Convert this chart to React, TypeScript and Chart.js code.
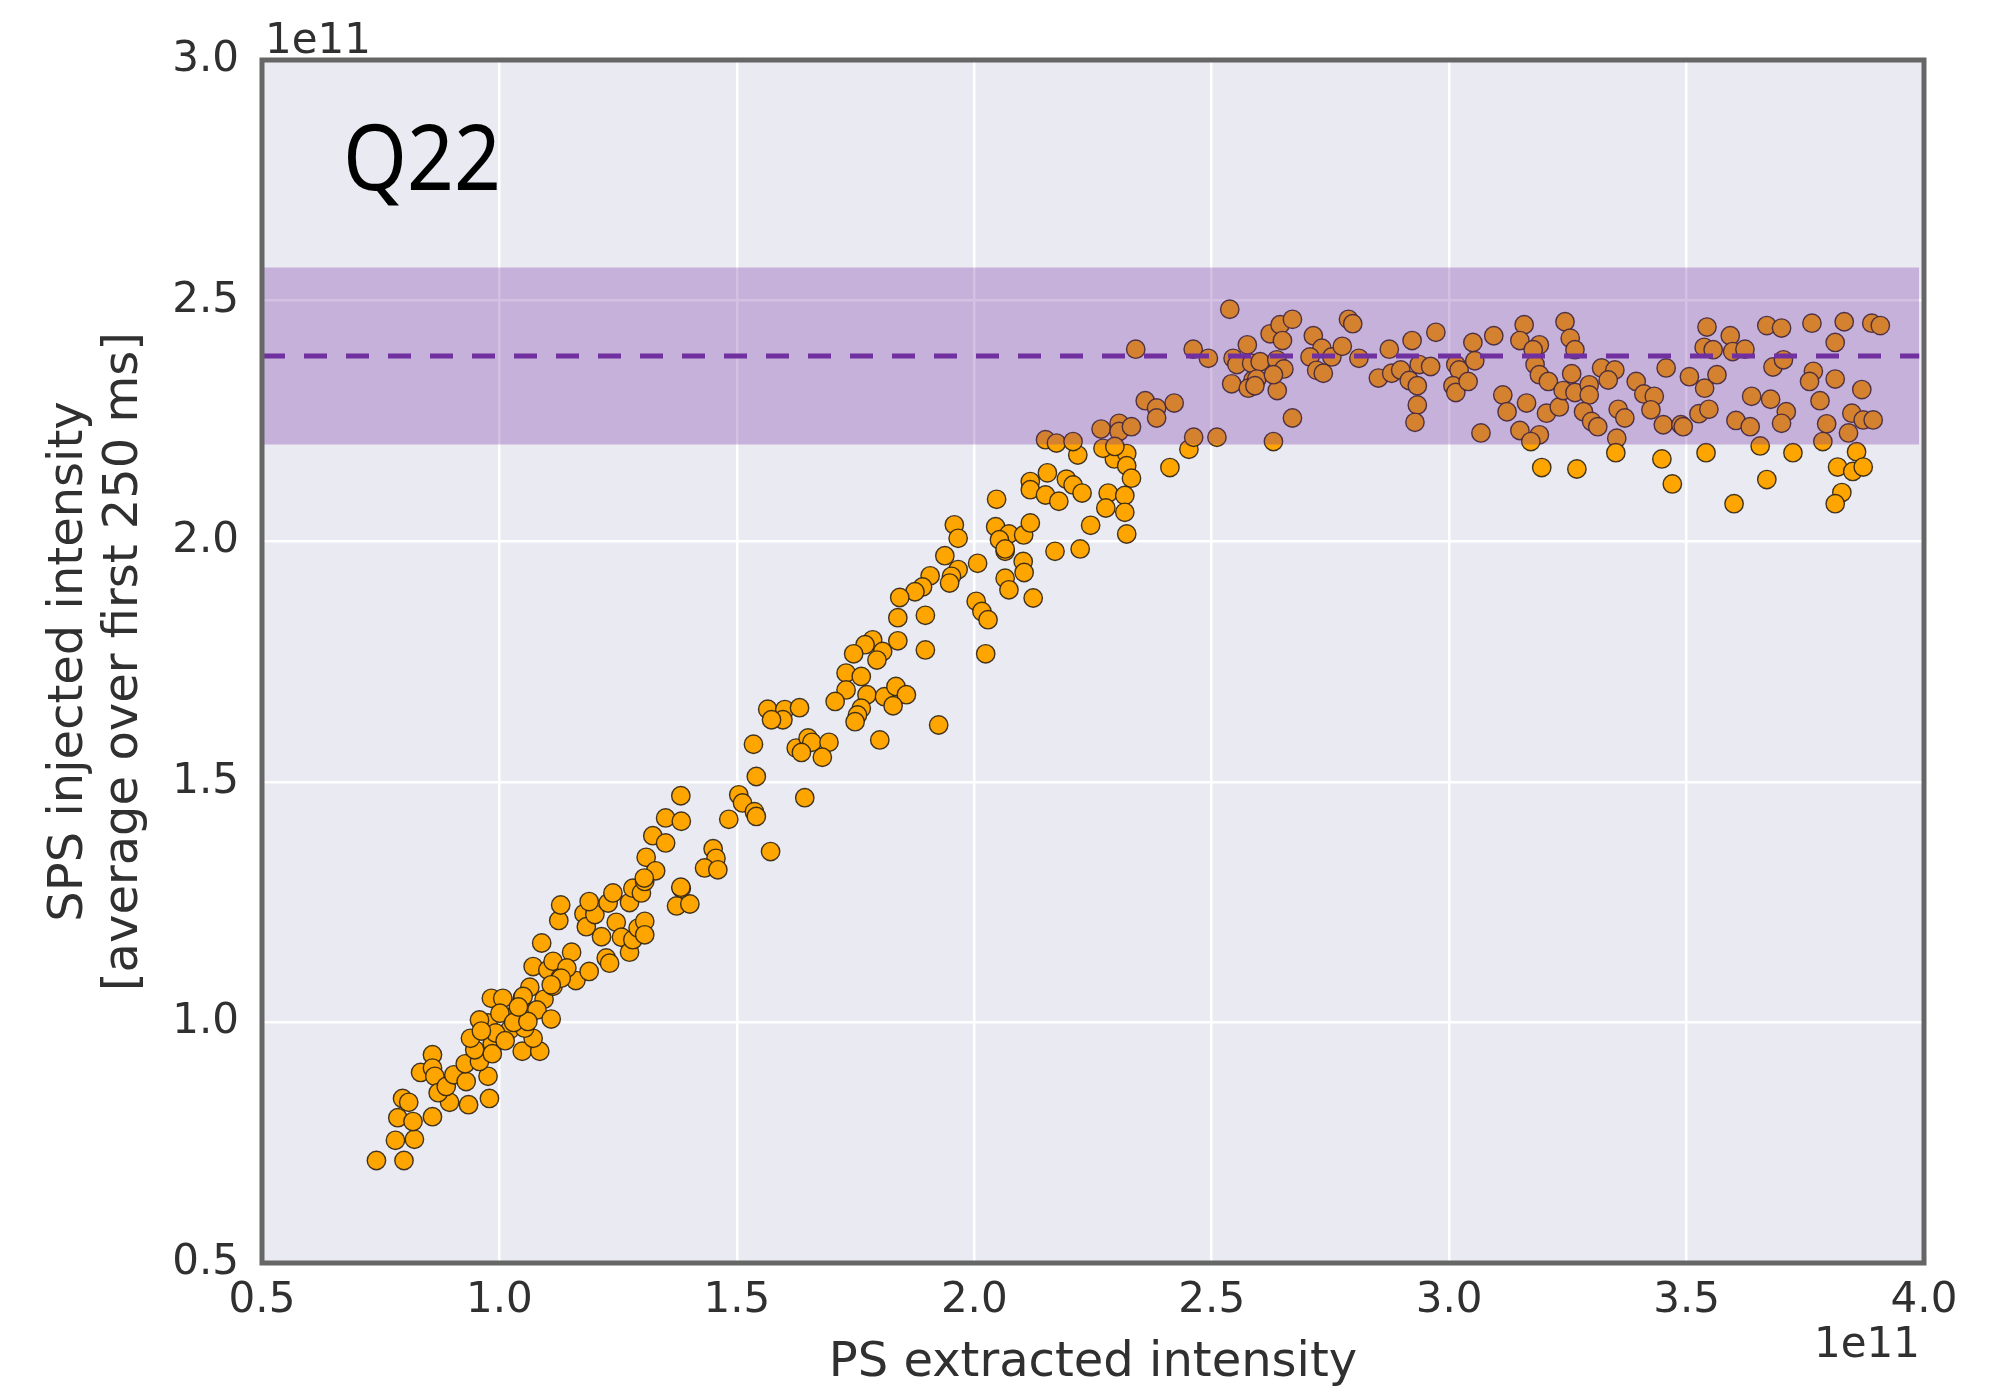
import React, { useEffect, useRef } from "react";
import { Chart, registerables } from "chart.js";

Chart.register(...registerables);

// ---------- axis ticks & labels ----------
const X_TICK_VALUES = [0.5, 1.0, 1.5, 2.0, 2.5, 3.0, 3.5, 4.0];
const Y_TICK_VALUES = [0.5, 1.0, 1.5, 2.0, 2.5, 3.0];
const OFFSET_LABEL = "1e11";
const X_TITLE = "PS extracted intensity";
const Y_TITLE = ["SPS injected intensity", "[average over first 250 ms]"];
const PANEL_LABEL = "Q22";

// ---------- reference band (units of 1e11) ----------
const BAND_MEAN = 2.385;
const BAND_LOW = 2.201;
const BAND_HIGH = 2.569;
const BAND_X_RANGE = [0.5, 3.99];

// ---------- data (units of 1e11) ----------
// linear rise, low intensities
const riseLowX = [
  0.741, 0.799, 0.781, 0.821, 0.786, 0.818, 0.796, 0.809, 0.859, 0.895,
  0.935, 0.979, 0.976, 0.834, 0.859, 0.859, 0.864, 0.871, 0.888, 0.904,
  0.930, 0.928, 0.958, 0.948, 0.939, 0.985, 0.985, 0.976, 0.958, 0.983,
  1.007, 1.022, 1.048, 1.085, 1.071, 1.048, 1.064, 1.094, 1.079, 1.109,
  1.036, 1.001, 1.071, 1.102, 1.113, 1.128, 1.113, 1.152, 1.161, 1.189,
  1.089, 1.125, 1.129, 1.178, 1.183, 1.201, 1.215, 1.225, 1.232, 1.246,
  1.257, 1.274, 1.281, 1.292, 1.306, 1.306, 1.229, 1.274, 1.373, 1.401,
  1.142, 1.130, 1.109, 1.050, 1.053, 1.189, 1.239, 1.281, 1.299, 1.306,
  1.383, 1.030, 1.060, 0.992, 1.012, 0.962, 1.040,
];
const riseLowY = [
  0.713, 0.713, 0.755, 0.757, 0.802, 0.794, 0.842, 0.834, 0.804, 0.834,
  0.829, 0.842, 0.888, 0.896, 0.933, 0.905, 0.888, 0.854, 0.867, 0.891,
  0.877, 0.914, 0.919, 0.943, 0.967, 0.956, 0.935, 0.999, 1.005, 1.050,
  1.050, 0.985, 0.940, 0.940, 0.967, 1.050, 1.073, 1.048, 1.026, 1.007,
  1.019, 1.019, 1.116, 1.109, 1.127, 1.093, 1.075, 1.146, 1.087, 1.106,
  1.165, 1.212, 1.244, 1.226, 1.199, 1.224, 1.178, 1.134, 1.123, 1.208,
  1.177, 1.146, 1.172, 1.196, 1.210, 1.182, 1.248, 1.249, 1.242, 1.246,
  1.113, 1.092, 1.078, 1.054, 0.988, 1.251, 1.269, 1.279, 1.269, 1.293,
  1.279, 1.000, 1.002, 0.978, 0.962, 0.982, 1.032,
];

// linear rise, middle intensities
const riseMidX = [
  1.938, 2.007, 2.065, 2.103, 2.170, 1.966, 1.952, 1.948, 1.907, 1.891,
  1.875, 1.843, 1.839, 1.897, 1.839, 1.897, 2.065, 2.073, 2.105, 2.124,
  2.004, 2.016, 2.029, 2.024, 1.786, 1.770, 1.807, 1.746, 1.795, 1.730,
  1.762, 1.730, 1.774, 1.811, 1.835, 1.857, 1.829, 1.762, 1.754, 1.749,
  1.707, 1.925, 1.801, 1.565, 1.601, 1.632, 1.597, 1.573, 1.535, 1.625,
  1.650, 1.658, 1.694, 1.636, 1.680, 1.541, 1.504, 1.512, 1.537, 1.541,
  1.483, 1.643, 1.571, 1.382, 1.350, 1.383, 1.323, 1.350, 1.309, 1.329,
  1.305, 1.450, 1.456, 1.432, 1.460, 1.382,
];
const riseMidY = [
  1.970, 1.954, 1.979, 1.958, 1.979, 1.941, 1.927, 1.913, 1.928, 1.905,
  1.895, 1.883, 1.841, 1.846, 1.793, 1.774, 1.923, 1.899, 1.935, 1.882,
  1.875, 1.854, 1.837, 1.766, 1.795, 1.785, 1.771, 1.766, 1.753, 1.726,
  1.719, 1.691, 1.681, 1.677, 1.698, 1.681, 1.658, 1.653, 1.639, 1.625,
  1.667, 1.618, 1.587, 1.651, 1.650, 1.654, 1.629, 1.629, 1.578, 1.570,
  1.591, 1.582, 1.582, 1.561, 1.551, 1.511, 1.473, 1.456, 1.438, 1.428,
  1.422, 1.467, 1.355, 1.471, 1.425, 1.418, 1.388, 1.373, 1.343, 1.315,
  1.300, 1.361, 1.341, 1.321, 1.317, 1.281,
];

// knee, below the band
const kneeBelowX = [
  2.452, 2.412, 2.218, 2.295, 2.321, 2.321, 2.331, 2.154, 2.118, 2.118,
  2.194, 2.208, 2.227, 2.150, 2.178, 2.282, 2.317, 2.277, 2.317, 2.047,
  2.245, 2.321, 1.958, 1.966, 2.045, 2.073, 2.104, 2.118, 2.053, 2.065,
  2.223,
];
const kneeBelowY = [
  2.191, 2.153, 2.179, 2.171, 2.182, 2.157, 2.131, 2.142, 2.124, 2.107,
  2.129, 2.117, 2.100, 2.096, 2.083, 2.100, 2.095, 2.069, 2.060, 2.087,
  2.033, 2.015, 2.034, 2.006, 2.030, 2.015, 2.013, 2.038, 2.003, 1.984,
  1.984,
];

// knee, inside the band
const kneeBandX = [
  2.150, 2.173, 2.208, 2.267, 2.305, 2.305, 2.331, 2.271, 2.296, 2.360,
  2.384, 2.421, 2.384, 2.462, 2.511, 2.630, 2.670, 2.340, 2.461, 2.493,
  2.538, 2.575, 2.545, 2.553, 2.542, 2.587, 2.577, 2.584, 2.602, 2.595,
  2.591, 2.638,
];
const kneeBandY = [
  2.211, 2.204, 2.207, 2.233, 2.245, 2.228, 2.238, 2.193, 2.197, 2.292,
  2.277, 2.287, 2.256, 2.216, 2.216, 2.207, 2.256, 2.399, 2.399, 2.380,
  2.482, 2.408, 2.380, 2.367, 2.327, 2.335, 2.318, 2.370, 2.373, 2.337,
  2.323, 2.313,
];

// plateau, 2.6 - 3.3
const plateauAX = [
  2.623, 2.644, 2.670, 2.649, 2.637, 2.652, 2.630, 2.714, 2.732, 2.707,
  2.753, 2.721, 2.735, 2.775, 2.788, 2.797, 2.810, 2.874, 2.851, 2.879,
  2.898, 2.916, 2.933, 2.922, 2.937, 2.961, 2.972, 2.933, 2.928, 3.014,
  3.021, 3.050, 3.054, 3.008, 3.014, 3.040, 3.067, 3.094, 3.113, 3.122,
  3.163, 3.158, 3.149, 3.190, 3.177, 3.181, 3.190, 3.209, 3.205, 3.232,
  3.244, 3.255, 3.265, 3.258, 3.240, 3.265, 3.149, 3.190, 3.172, 3.195,
  3.269,
];
const plateauAY = [
  2.431, 2.450, 2.461, 2.417, 2.377, 2.358, 2.346, 2.427, 2.401, 2.383,
  2.383, 2.355, 2.349, 2.405, 2.461, 2.452, 2.380, 2.399, 2.339, 2.349,
  2.356, 2.334, 2.323, 2.417, 2.367, 2.363, 2.434, 2.283, 2.247, 2.367,
  2.356, 2.413, 2.375, 2.323, 2.309, 2.332, 2.225, 2.427, 2.304, 2.269,
  2.287, 2.450, 2.417, 2.408, 2.398, 2.367, 2.346, 2.332, 2.266, 2.279,
  2.456, 2.422, 2.398, 2.348, 2.313, 2.309, 2.230, 2.221, 2.207, 2.153,
  2.150,
];

// plateau, 3.3 - 3.9
const plateauBX = [
  3.295, 3.295, 3.283, 3.300, 3.313, 3.321, 3.349, 3.335, 3.394, 3.410,
  3.432, 3.356, 3.370, 3.425, 3.457, 3.451, 3.488, 3.493, 3.353, 3.351,
  3.448, 3.470, 3.506, 3.538, 3.564, 3.543, 3.537, 3.556, 3.592, 3.597,
  3.623, 3.526, 3.547, 3.604, 3.634, 3.541, 3.600, 3.637, 3.669, 3.700,
  3.682, 3.704, 3.677, 3.710, 3.700, 3.655, 3.669, 3.724, 3.764, 3.767,
  3.759, 3.781, 3.795, 3.787, 3.813, 3.832, 3.813, 3.869, 3.848, 3.872,
  3.893, 3.841, 3.890, 3.908, 3.858, 3.818, 3.850, 3.872, 3.827, 3.813,
];
const plateauBY = [
  2.325, 2.304, 2.269, 2.249, 2.238, 2.360, 2.356, 2.335, 2.332, 2.306,
  2.301, 2.274, 2.256, 2.273, 2.360, 2.242, 2.242, 2.238, 2.214, 2.184,
  2.171, 2.119, 2.342, 2.318, 2.346, 2.445, 2.403, 2.398, 2.427, 2.394,
  2.399, 2.265, 2.274, 2.251, 2.238, 2.184, 2.078, 2.301, 2.448, 2.443,
  2.362, 2.377, 2.295, 2.269, 2.245, 2.198, 2.128, 2.184, 2.453, 2.353,
  2.332, 2.292, 2.244, 2.207, 2.413, 2.456, 2.337, 2.315, 2.266, 2.252,
  2.252, 2.225, 2.453, 2.448, 2.186, 2.154, 2.145, 2.154, 2.101, 2.078,
];

const TICK_FONT = { family: "'DejaVu Sans', sans-serif", size: 42, lineHeight: 1.2 };
const TITLE_FONT = { family: "'DejaVu Sans', sans-serif", size: 48, lineHeight: 1.15 };
const TEXT_COLOR = "#303030";

export default function App() {
  const ref = useRef<HTMLCanvasElement | null>(null);

  useEffect(() => {
    document.body.style.margin = "0";
    const canvas = ref.current;
    if (!canvas) return;

    const xs = [...riseLowX, ...riseMidX, ...kneeBelowX, ...kneeBandX, ...plateauAX, ...plateauBX];
    const ys = [...riseLowY, ...riseMidY, ...kneeBelowY, ...kneeBandY, ...plateauAY, ...plateauBY];
    const points = xs.map((x, i) => ({ x, y: ys[i] }));

    const decor = {
      id: "decor",
      beforeDraw(chart: any) {
        const { ctx, chartArea: a } = chart;
        ctx.save();
        ctx.fillStyle = "#ffffff";
        ctx.fillRect(0, 0, chart.width, chart.height);
        ctx.fillStyle = "#EAEAF2";
        ctx.fillRect(a.left, a.top, a.right - a.left, a.bottom - a.top);
        ctx.restore();
      },
      afterDraw(chart: any) {
        const { ctx, chartArea: a } = chart;
        ctx.save();
        // frame
        ctx.strokeStyle = "#666666";
        ctx.lineWidth = 5;
        ctx.strokeRect(a.left, a.top, a.right - a.left, a.bottom - a.top);
        // offset labels
        ctx.fillStyle = TEXT_COLOR;
        ctx.font = "42px 'DejaVu Sans', sans-serif";
        ctx.textBaseline = "alphabetic";
        ctx.textAlign = "left";
        ctx.fillText(OFFSET_LABEL, a.left + 3, a.top - 7);
        ctx.textAlign = "right";
        ctx.fillText(OFFSET_LABEL, a.right - 4, a.bottom + 94);
        // panel label
        ctx.fillStyle = "#000000";
        ctx.font = "82px 'Noto Sans', sans-serif";
        ctx.textAlign = "left";
        ctx.translate(a.left + 81, a.top + 130);
        ctx.scale(1, 1.12);
        ctx.fillText(PANEL_LABEL, 0, 0);
        ctx.restore();
      },
    };

    const chart = new Chart(canvas, {
      type: "scatter",
      data: {
        datasets: [
          {
            type: "line",
            label: "mean",
            data: BAND_X_RANGE.map((x) => ({ x, y: BAND_MEAN })),
            borderColor: "#7030A0",
            borderWidth: 5,
            borderDash: [23, 19],
            pointRadius: 0,
            fill: false,
            order: 0,
          } as any,
          {
            type: "line",
            label: "band high",
            data: BAND_X_RANGE.map((x) => ({ x, y: BAND_HIGH })),
            borderWidth: 0,
            borderColor: "rgba(0,0,0,0)",
            backgroundColor: "rgba(112,48,160,0.3)",
            pointRadius: 0,
            fill: "+1",
            order: 1,
          } as any,
          {
            type: "line",
            label: "band low",
            data: BAND_X_RANGE.map((x) => ({ x, y: BAND_LOW })),
            borderWidth: 0,
            borderColor: "rgba(0,0,0,0)",
            pointRadius: 0,
            fill: false,
            order: 1,
          } as any,
          {
            type: "scatter",
            label: "Q22",
            data: points,
            backgroundColor: "#FFA500",
            borderColor: "rgba(45,35,20,0.9)",
            borderWidth: 1.4,
            pointRadius: 9.2,
            order: 2,
          } as any,
        ],
      },
      options: {
        animation: false,
        responsive: false,
        devicePixelRatio: 1,
        layout: { padding: { top: 60, right: 83, bottom: 0, left: 0 } },
        plugins: {
          legend: { display: false },
          tooltip: { enabled: false },
        },
        scales: {
          x: {
            type: "linear",
            min: X_TICK_VALUES[0],
            max: X_TICK_VALUES[X_TICK_VALUES.length - 1],
            afterBuildTicks: (s: any) => {
              s.ticks = X_TICK_VALUES.map((v) => ({ value: v }));
            },
            afterFit: (s: any) => {
              s.height = 128;
            },
            grid: { color: "#ffffff", lineWidth: 2.5, drawTicks: false },
            border: { display: false },
            ticks: {
              font: TICK_FONT,
              color: TEXT_COLOR,
              padding: 13,
              maxRotation: 0,
              autoSkip: false,
              callback: (v: any) => Number(v).toFixed(1),
            },
            title: {
              display: true,
              text: X_TITLE,
              font: TITLE_FONT,
              color: TEXT_COLOR,
              padding: { top: 0, bottom: 0 },
            },
          },
          y: {
            type: "linear",
            min: Y_TICK_VALUES[0],
            max: Y_TICK_VALUES[Y_TICK_VALUES.length - 1],
            afterBuildTicks: (s: any) => {
              s.ticks = Y_TICK_VALUES.map((v) => ({ value: v }));
            },
            afterFit: (s: any) => {
              s.width = 262;
            },
            grid: { color: "#ffffff", lineWidth: 2.5, drawTicks: false },
            border: { display: false },
            ticks: {
              font: TICK_FONT,
              color: TEXT_COLOR,
              padding: 23,
              autoSkip: false,
              callback: (v: any) => Number(v).toFixed(1),
            },
            title: {
              display: true,
              text: Y_TITLE,
              font: TITLE_FONT,
              color: TEXT_COLOR,
              padding: { top: 42, bottom: 0 },
            },
          },
        },
      } as any,
      plugins: [decor],
    });

    return () => chart.destroy();
  }, []);

  return (
    <canvas
      ref={ref}
      width={2007}
      height={1391}
      style={{ display: "block", width: "2007px", height: "1391px" }}
    />
  );
}
